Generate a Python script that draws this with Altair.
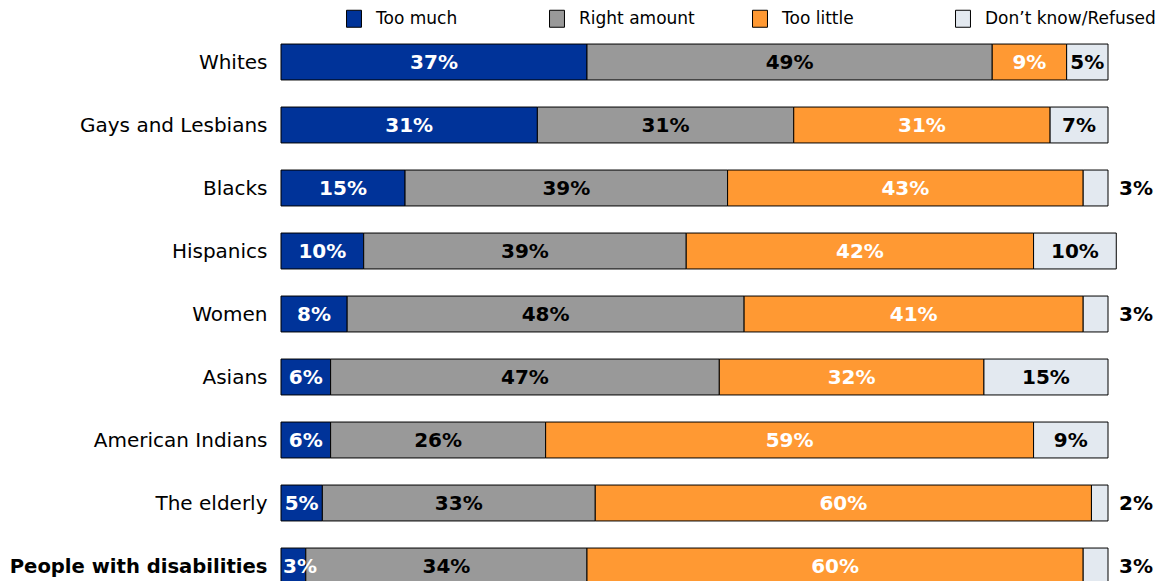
import altair as alt
import pandas as pd

categories = ["Whites", "Gays and Lesbians", "Blacks", "Hispanics", "Women",
              "Asians", "American Indians", "The elderly", "People with disabilities"]
responses = ["Too much", "Right amount", "Too little", "Don\u2019t know/Refused"]
too_much = [37, 31, 15, 10, 8, 6, 6, 5, 3]
right_amount = [49, 31, 39, 39, 48, 47, 26, 33, 34]
too_little = [9, 31, 43, 42, 41, 32, 59, 60, 60]
dont_know = [5, 7, 3, 10, 3, 15, 9, 2, 3]
colors = ["#003399", "#999999", "#FF9933", "#E3E9F0"]

series = [too_much, right_amount, too_little, dont_know]
rows = []
for i, cat in enumerate(categories):
    start = 0
    for j, resp in enumerate(responses):
        v = series[j][i]
        if j == 3 and v <= 3:
            anchor = "outside"
        elif j == 0 and v <= 3:
            anchor = "left"
        else:
            anchor = "center"
        rows.append({
            "category": cat, "response": resp, "order": j, "value": v,
            "start": start, "end": start + v, "mid": start + v / 2,
            "label": f"{v}%", "anchor": anchor,
        })
        start += v
df = pd.DataFrame(rows)

FONT = "DejaVu Sans"

y_enc = alt.Y(
    "category:N", sort=categories,
    scale=alt.Scale(range=[0, 567], paddingInner=0.43, paddingOuter=0.215),
    axis=alt.Axis(title=None, ticks=False, domain=False,
                  labelFontSize=alt.expr("datum.value == 'People with disabilities' ? 19.6 : 20"),
                  labelPadding=14, labelColor="black", labelFont=FONT, labelLimit=400,
                  labelBaseline="middle", labelOffset=1,
                  labelFontWeight=alt.expr("datum.value == 'People with disabilities' ? 'bold' : 'normal'")),
)
x_scale = alt.Scale(domain=[0, 100])

base = alt.Chart(df)

bars = base.mark_bar(stroke="black", strokeWidth=1, opacity=1).encode(
    y=y_enc,
    x=alt.X("start:Q", scale=x_scale, axis=None),
    x2="end:Q",
    color=alt.Color(
        "response:N", sort=responses,
        scale=alt.Scale(domain=responses, range=colors),
        legend=alt.Legend(
            title=None, orient="none", legendX=64, legendY=-21, direction="horizontal",
            columns=4, gridAlign="all", columnPadding=0, padding=0,
            symbolType="M-0.88,-1H0.88V1H-0.88Z", symbolSize=289,
            symbolStrokeColor="black", symbolStrokeWidth=1, symbolOpacity=1,
            labelFontSize=17, labelFont=FONT, labelColor="black", labelOffset=13,
            labelLimit=400,
        ),
    ),
)

text_color = alt.condition(
    "datum.response == 'Too much' || datum.response == 'Too little'",
    alt.value("white"), alt.value("black"))

inside = base.transform_filter("datum.anchor == 'center'").mark_text(
    font=FONT, fontSize=20, fontWeight="bold", align="center", baseline="middle", dy=1
).encode(
    y=alt.Y("category:N", sort=categories),
    x=alt.X("mid:Q", scale=x_scale),
    text="label:N",
    color=text_color,
)

left_in = base.transform_filter("datum.anchor == 'left'").mark_text(
    font=FONT, fontSize=20, fontWeight="bold", align="left", baseline="middle", dx=2, dy=1
).encode(
    y=alt.Y("category:N", sort=categories),
    x=alt.X("start:Q", scale=x_scale),
    text="label:N",
    color=alt.value("white"),
)

outside = base.transform_filter("datum.anchor == 'outside'").mark_text(
    font=FONT, fontSize=20, fontWeight="bold", align="left", baseline="middle", dx=11, dy=1
).encode(
    y=alt.Y("category:N", sort=categories),
    x=alt.X("end:Q", scale=x_scale),
    text="label:N",
    color=alt.value("black"),
)

chart = alt.layer(bars, inside, left_in, outside).properties(
    width=827, height=550,
    autosize=alt.AutoSizeParams(type="none"),
    padding={"left": 273, "top": 22.5, "right": 58, "bottom": 0},
).configure_view(stroke=None)

chart.save("out.html", embed_options={"renderer": "svg", "actions": False})
